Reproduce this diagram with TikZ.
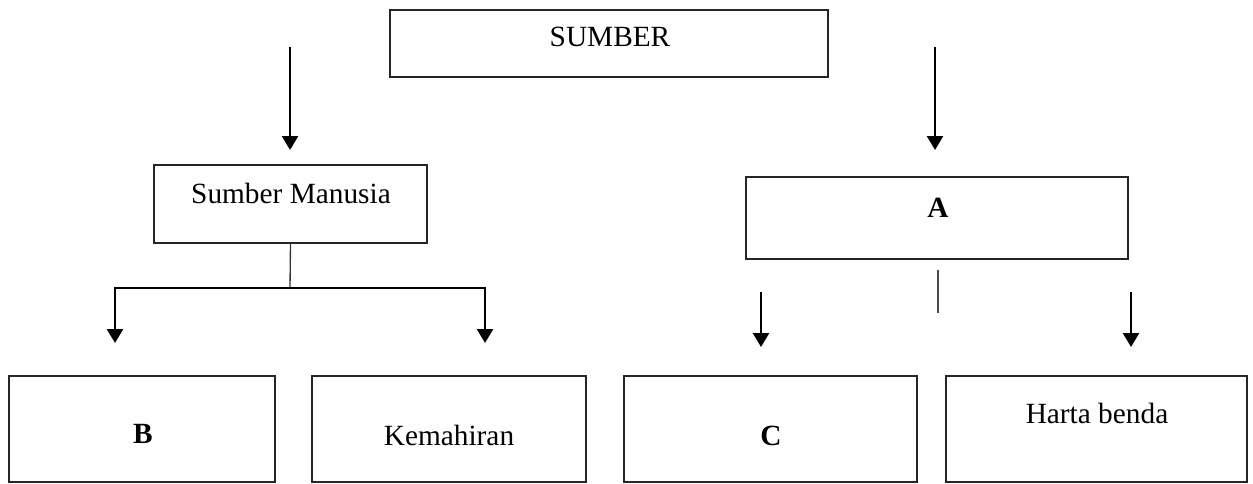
\documentclass[tikz,border=0pt]{standalone}
\usepackage{fontspec}
\setmainfont{Liberation Serif}
\usepackage{xcolor}
\usepackage{tikz}
\usetikzlibrary{arrows.meta}

\tikzset{
  box/.style={draw=black!85, line width=1.2pt, rectangle, inner sep=0pt},
  lbl/.style={inner sep=0.75pt, font=\fontsize{22}{26}\selectfont},
  arr/.style={line width=1.9pt, -{Triangle[length=10.5pt,width=12pt]}},
}

\begin{document}
\begin{tikzpicture}[x=0.75pt,y=0.75pt,yscale=-1,xscale=1]
\useasboundingbox (0,0) rectangle (1253,483);

%Shape: Rectangle
\node[box, minimum width=328.5pt, minimum height=50.25pt] (sumber) at (609,43.5) {};
%Shape: Rectangle
\node[box, minimum width=204.75pt, minimum height=58.5pt] (manusia) at (290.5,204) {};
%Shape: Rectangle
\node[box, minimum width=286.5pt, minimum height=61.5pt] (abox) at (937,218) {};
%Shape: Rectangle
\node[box, minimum width=199.5pt, minimum height=79.5pt] (bbox) at (142,429) {};
%Shape: Rectangle
\node[box, minimum width=205.5pt, minimum height=79.5pt] (kemahiran) at (449,429) {};
%Shape: Rectangle
\node[box, minimum width=219.75pt, minimum height=79.5pt] (cbox) at (770.5,429) {};
%Shape: Rectangle
\node[box, minimum width=225.75pt, minimum height=79.5pt] (harta) at (1096.5,429) {};

% Text Node
\node[lbl] (sumbertxt) at (610,37) {SUMBER};
% Text Node
\node[lbl] (manusiatxt) at (291,193) {Sumber Manusia};
% Text Node
\node[lbl, font=\fontsize{22}{26}\selectfont\bfseries] (atxt) at (938,208) {A};
% Text Node
\node[lbl, font=\fontsize{22}{26}\selectfont\bfseries] (btxt) at (143,434) {B};
% Text Node
\node[lbl] (kemahirantxt) at (449,435) {Kemahiran};
% Text Node
\node[lbl, font=\fontsize{22}{26}\selectfont\bfseries] (ctxt) at (771,436) {C};
% Text Node
\node[lbl] (hartatxt) at (1097,413) {Harta benda};

% free ends
\coordinate (ltop) at (290,47);
\coordinate (lend) at (290,150);
\coordinate (rtop) at (935,47);
\coordinate (rend) at (935,150);
\coordinate (fork) at (290,288);
\coordinate (bend) at (115,343);
\coordinate (kend) at (485,343);
\coordinate (atop) at (938,270);
\coordinate (abot) at (938,313);
\coordinate (ctop) at (761,292);
\coordinate (cend) at (761,347);
\coordinate (htop) at (1131,292);
\coordinate (hend) at (1131,347);

%Straight Lines
\draw[arr] (ltop) -- (lend);
\draw[arr] (rtop) -- (rend);
\draw[line width=1pt, black!80] (manusia.south) -- (fork);
\draw[arr] (fork) -| (bend);
\draw[arr] (fork) -| (kend);
\draw[line width=1pt, black!70] (atop) -- (abot);
\draw[arr] (ctop) -- (cend);
\draw[arr] (htop) -- (hend);

\end{tikzpicture}
\end{document}
